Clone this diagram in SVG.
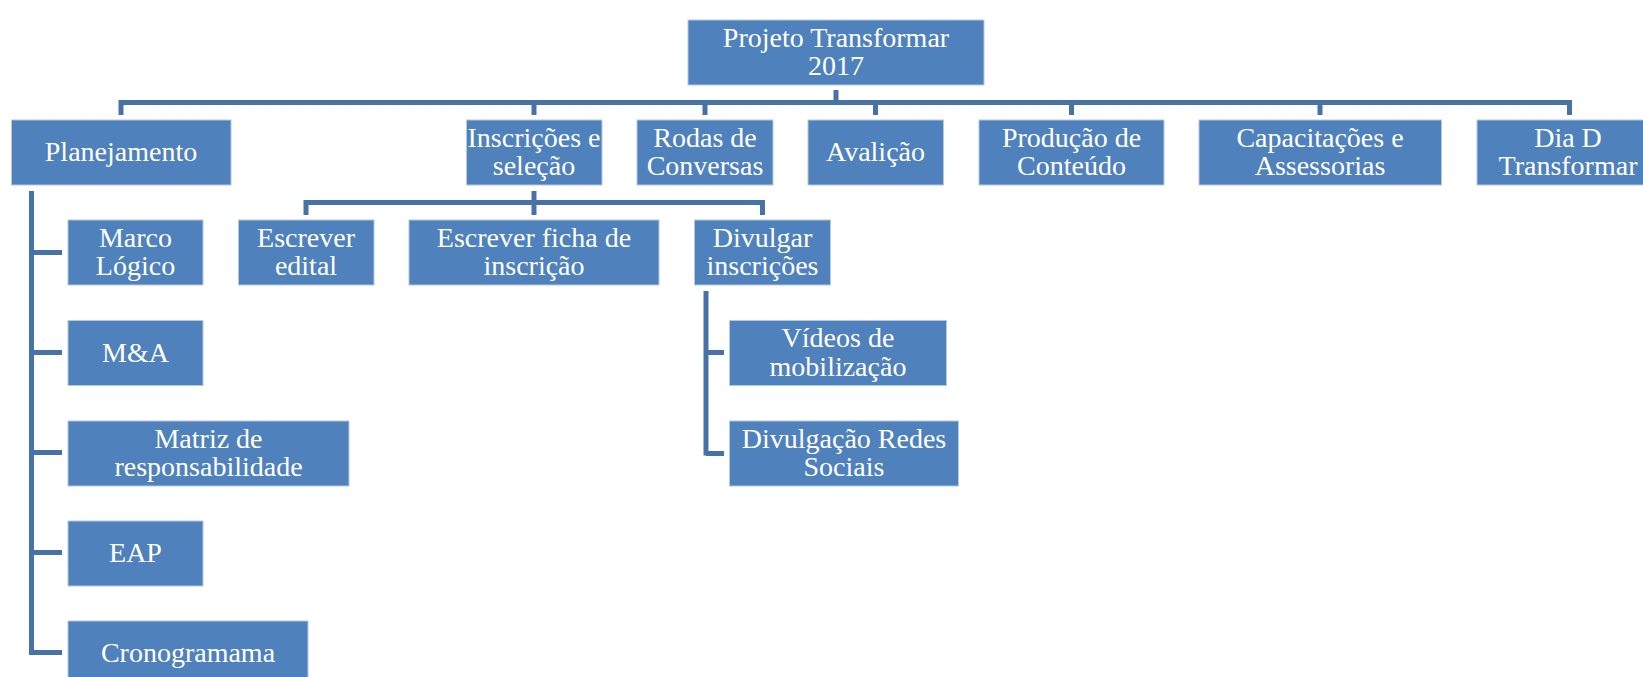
<svg xmlns="http://www.w3.org/2000/svg" width="1643" height="677" viewBox="0 0 1643 677">
<style>
.box{fill:#4F81BD;stroke:#b4c8e2;stroke-width:1}
.t{font-family:"Liberation Serif","Times New Roman",serif;font-size:28px;fill:#ffffff;text-anchor:middle}
.c{fill:none;stroke:#4672A8;stroke-width:5;stroke-linejoin:miter;stroke-linecap:butt}
</style>
<rect width="1643" height="677" fill="#ffffff"/>
<g id="connectors">
<path class="c" d="M836,90 V102.5"/>
<path class="c" d="M121,115 V102.5 H1569.5 V115"/>
<path class="c" d="M534,102.5 V115 M705,102.5 V115 M875.5,102.5 V115 M1071.5,102.5 V115 M1320,102.5 V115"/>
<path class="c" d="M534,191 V202.5"/>
<path class="c" d="M306,215 V202.5 H762.5 V215 M534,202.5 V215"/>
<path class="c" d="M31.5,191 V655 M31.5,252.5 H62 M31.5,352.5 H62 M31.5,452.5 H62 M31.5,552.5 H62 M31.5,652.5 H62"/>
<path class="c" d="M706,291 V455.5 M706,352.5 H724 M706,453.5 H724"/>
</g>
<g id="root"><rect class="box" x="688" y="20" width="296" height="65"/><text class="t" x="836" y="46.8">Projeto Transformar</text><text class="t" x="836" y="75">2017</text></g>
<g id="planejamento"><rect class="box" x="11.5" y="120" width="219.5" height="65"/><text class="t" x="121" y="161">Planejamento</text></g>
<g id="inscricoes"><rect class="box" x="466.5" y="120" width="135.5" height="65"/><text class="t" x="534" y="146.8">Inscrições e</text><text class="t" x="534" y="175">seleção</text></g>
<g id="rodas"><rect class="box" x="637" y="120" width="136" height="65"/><text class="t" x="705" y="146.8">Rodas de</text><text class="t" x="705" y="175">Conversas</text></g>
<g id="avalicao"><rect class="box" x="808" y="120" width="135.5" height="65"/><text class="t" x="875.5" y="161">Avalição</text></g>
<g id="producao"><rect class="box" x="979" y="120" width="185" height="65"/><text class="t" x="1071.5" y="146.8">Produção de</text><text class="t" x="1071.5" y="175">Conteúdo</text></g>
<g id="capacitacoes"><rect class="box" x="1199" y="120" width="242.5" height="65"/><text class="t" x="1320" y="146.8">Capacitações e</text><text class="t" x="1320" y="175">Assessorias</text></g>
<g id="diad"><rect class="box" x="1477" y="120" width="185" height="65"/><text class="t" x="1568" y="146.8">Dia D</text><text class="t" x="1568" y="175">Transformar</text></g>
<g id="marco"><rect class="box" x="68" y="220" width="135" height="65"/><text class="t" x="135.5" y="246.8">Marco</text><text class="t" x="135.5" y="275">Lógico</text></g>
<g id="ma"><rect class="box" x="68" y="320.5" width="135" height="65"/><text class="t" x="135.5" y="361.5">M&amp;A</text></g>
<g id="matriz"><rect class="box" x="68" y="421" width="281" height="65"/><text class="t" x="208.5" y="447.8">Matriz de</text><text class="t" x="208.5" y="476">responsabilidade</text></g>
<g id="eap"><rect class="box" x="68" y="521" width="135" height="65"/><text class="t" x="135.5" y="562">EAP</text></g>
<g id="cronograma"><rect class="box" x="68" y="621" width="240" height="65"/><text class="t" x="188" y="662">Cronogramama</text></g>
<g id="edital"><rect class="box" x="238.5" y="220" width="135.5" height="65"/><text class="t" x="306" y="246.8">Escrever</text><text class="t" x="306" y="275">edital</text></g>
<g id="ficha"><rect class="box" x="409" y="220" width="250" height="65"/><text class="t" x="534" y="246.8">Escrever ficha de</text><text class="t" x="534" y="275">inscrição</text></g>
<g id="divulgar"><rect class="box" x="694.5" y="220" width="136" height="65"/><text class="t" x="762.5" y="246.8">Divulgar</text><text class="t" x="762.5" y="275">inscrições</text></g>
<g id="videos"><rect class="box" x="729.5" y="320.5" width="217" height="65"/><text class="t" x="838" y="347.3">Vídeos de</text><text class="t" x="838" y="375.5">mobilização</text></g>
<g id="redes"><rect class="box" x="729.5" y="421" width="229" height="65"/><text class="t" x="844" y="447.8">Divulgação Redes</text><text class="t" x="844" y="476">Sociais</text></g>
</svg>
